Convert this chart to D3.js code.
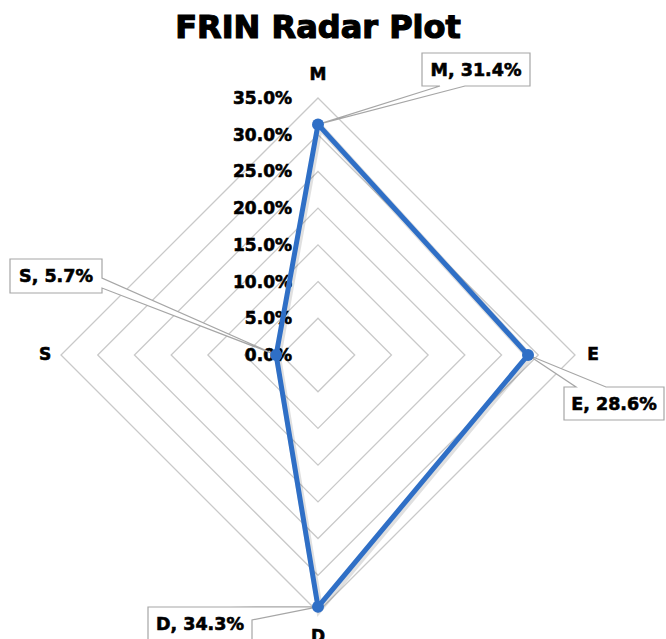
<!DOCTYPE html>
<html><head><meta charset="utf-8">
<script src="https://cdn.jsdelivr.net/npm/d3@7"></script>
<style>body{margin:0;background:#fff}svg{display:block}text{font-family:"DejaVu Sans",Arial,sans-serif;font-weight:bold;fill:#000;stroke:#000;stroke-width:0.6px}</style>
</head><body>
<svg id="chart" width="666" height="639"></svg>
<script>
const categories = ["M", "E", "D", "S"];
const values = [31.4, 28.6, 34.3, 5.7];
const tickValues = [0, 5, 10, 15, 20, 25, 30, 35];
const tickLabels = ["0.0%", "5.0%", "10.0%", "15.0%", "20.0%", "25.0%", "30.0%", "35.0%"];
const title = "FRIN Radar Plot";

const svg = d3.select("#chart");
const cx = 318, cy = 355, R = 257;
const r = d3.scaleLinear().domain([0, 35]).range([0, R]);
const ang = d3.scalePoint().domain(categories).range([0, 2 * Math.PI * 3 / 4]);
const px = (c, v) => cx + r(v) * Math.sin(ang(c));
const py = (c, v) => cy - r(v) * Math.cos(ang(c));

svg.append("text").attr("x", 318).attr("y", 38).attr("text-anchor", "middle")
  .style("font-size", "32px").style("stroke-width", "1.2px").text(title);

// grid rings
const ring = d3.lineRadial().angle(c => ang(c)).curve(d3.curveLinearClosed);
tickValues.filter(t => t > 0).forEach(t => {
  svg.append("path")
    .attr("d", ring.radius(() => r(t))(categories))
    .attr("transform", `translate(${cx},${cy})`)
    .attr("fill", "none").attr("stroke", "#c9c9c9").attr("stroke-width", 1.3);
});

// tick labels
svg.selectAll(".tick").data(tickValues).join("text")
  .attr("x", 292).attr("y", d => cy - r(d) + 6)
  .attr("text-anchor", "end").style("font-size", "17px")
  .text((d, i) => tickLabels[i]);

// category labels
const labelPos = {M: [318, 80], E: [593, 360], D: [318, 642], S: [45, 360]};
categories.forEach(c => {
  svg.append("text").attr("x", labelPos[c][0]).attr("y", labelPos[c][1])
    .attr("text-anchor", "middle").style("font-size", "17px").text(c);
});

// callouts (drawn under the series line)
const callouts = {
  M: {box: [422, 53, 108, 33], pts: b => [[b[0], b[1]], [b[0]+b[2], b[1]], [b[0]+b[2], b[1]+b[3]], [465, b[1]+b[3]], "tip", [440, b[1]+b[3]], [b[0], b[1]+b[3]]]},
  E: {box: [564, 387, 100, 33], pts: b => [[b[0], b[1]], [576, b[1]], "tip", [606, b[1]], [b[0]+b[2], b[1]], [b[0]+b[2], b[1]+b[3]], [b[0], b[1]+b[3]]]},
  D: {box: [148, 607, 104, 40], pts: b => [[b[0], b[1]], [230, b[1]], "tip", [b[0]+b[2], 620], [b[0]+b[2], b[1]+b[3]], [b[0], b[1]+b[3]]]},
  S: {box: [10, 259, 92, 34], pts: b => [[b[0], b[1]], [b[0]+b[2], b[1]], [b[0]+b[2], 278], "tip", [b[0]+b[2], 288], [b[0]+b[2], b[1]+b[3]], [b[0], b[1]+b[3]]]}
};
categories.forEach((c, i) => {
  const co = callouts[c], b = co.box;
  const tip = [px(c, values[i]), py(c, values[i])];
  const poly = co.pts(b).map(p => p === "tip" ? tip : p);
  svg.append("path").attr("d", "M" + poly.map(p => p.join(",")).join("L") + "Z")
    .attr("fill", "#fff").attr("stroke", "#a6a6a6").attr("stroke-width", 1.2);
  svg.append("text").attr("x", b[0] + b[2] / 2).attr("y", b[1] + 23)
    .attr("text-anchor", "middle").style("font-size", "17.5px")
    .text(`${c}, ${values[i].toFixed(1)}%`);
});

// series
const line = d3.lineRadial().angle((d, i) => ang(categories[i])).radius(d => r(d)).curve(d3.curveLinearClosed);
svg.append("path").attr("d", line(values))
  .attr("fill", "none").attr("stroke", "rgba(0,0,0,0.12)").attr("stroke-width", 7)
  .attr("transform", `translate(${cx + 1.5},${cy + 2})`);
svg.append("path").attr("d", line(values)).attr("transform", `translate(${cx},${cy})`)
  .attr("fill", "none").attr("stroke", "#2f6fc6").attr("stroke-width", 5).attr("stroke-linejoin", "round");
svg.selectAll(".pt").data(values).join("circle")
  .attr("cx", (d, i) => px(categories[i], d)).attr("cy", (d, i) => py(categories[i], d))
  .attr("r", 6).attr("fill", "#2f6fc6");
</script>
</body></html>
